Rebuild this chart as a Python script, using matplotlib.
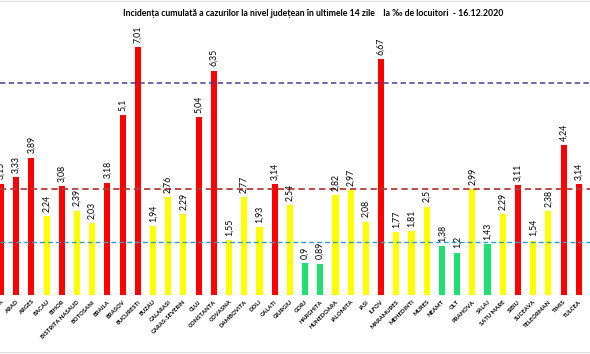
import matplotlib
matplotlib.use("Agg")
import matplotlib.pyplot as plt
from matplotlib.lines import Line2D

categories = ["ALBA", "ARAD", "ARGES", "BACAU", "BIHOR", "BISTRITA NASAUD", "BOTOSANI",
              "BRAILA", "BRASOV", "BUCURESTI", "BUZAU", "CALARASI", "CARAS-SEVERIN", "CLUJ",
              "CONSTANTA", "COVASNA", "DAMBOVITA", "DOLJ", "GALATI", "GIURGIU", "GORJ",
              "HARGHITA", "HUNEDOARA", "IALOMITA", "IASI", "ILFOV", "MARAMURES", "MEHEDINTI",
              "MURES", "NEAMT", "OLT", "PRAHOVA", "SALAJ", "SATU MARE", "SIBIU", "SUCEAVA",
              "TELEORMAN", "TIMIS", "TULCEA"]
values = [3.15, 3.33, 3.89, 2.24, 3.08, 2.39, 2.03, 3.18, 5.1, 7.01, 1.94, 2.76, 2.29, 5.04,
          6.35, 1.55, 2.77, 1.93, 3.14, 2.54, 0.9, 0.89, 2.82, 2.97, 2.08, 6.67, 1.77, 1.81,
          2.5, 1.38, 1.2, 2.99, 1.43, 2.29, 3.11, 1.54, 2.38, 4.24, 3.14]
thresholds = [6, 3, 1.5]

title = "Incidența cumulată a cazurilor la nivel județean în ultimele 14 zile    la ‰ de locuitori  - 16.12.2020"

def color_for(v):
    if v > 3:
        return "#FF0000"
    if v >= 1.5:
        return "#FFFF00"
    return "#1FE070"

fig = plt.figure(figsize=(5.9, 3.54), dpi=100)
ax = fig.add_axes([0, 1 - 295 / 354, 1, 265 / 354])
x = list(range(len(categories)))
ax.bar(x, values, width=0.4, color=[color_for(v) for v in values], zorder=2)

for xi, v in zip(x, values):
    ax.text(xi, v + 0.12, f"{v:g}".replace(".", ","), rotation=90, ha="center", va="bottom",
            fontsize=6.3, family=["Lato", "DejaVu Sans"], zorder=4)

line_styles = [("#4B3C8C", 1.1), ("#B83A3A", 1.3), ("#2AA0C8", 1.0)]
for t, (c, lw) in zip(thresholds, line_styles):
    ax.axhline(t, color=c, lw=lw, ls=(0, (3.5, 2.2)), zorder=3)

ax.axhline(0, color="#D9D9D9", lw=0.8, zorder=1)

ax.set_xlim(-0.066, 38.74)
ax.set_ylim(0, 7.5)
ax.set_xticks(x)
ax.set_xticklabels(categories, rotation=45, ha="right", rotation_mode="anchor",
                   fontsize=4.2, fontweight="bold", family=["Lato", "DejaVu Sans"])
ax.tick_params(axis="x", length=0, pad=3)
ax.set_yticks([])
for s in ax.spines.values():
    s.set_visible(False)

fig.text(0.53, 1 - 14 / 354, title, ha="center", va="center", fontsize=6.3,
         fontweight="bold", family=["Lato", "DejaVu Sans"])

fig.add_artist(Line2D([0, 1], [1 - 1 / 354, 1 - 1 / 354], color="#DDDDDD", lw=0.8,
                      transform=fig.transFigure))
fig.add_artist(Line2D([0, 1], [2 / 354, 2 / 354], color="#DDDDDD", lw=0.8,
                      transform=fig.transFigure))

fig.savefig("out.png", dpi=100)
